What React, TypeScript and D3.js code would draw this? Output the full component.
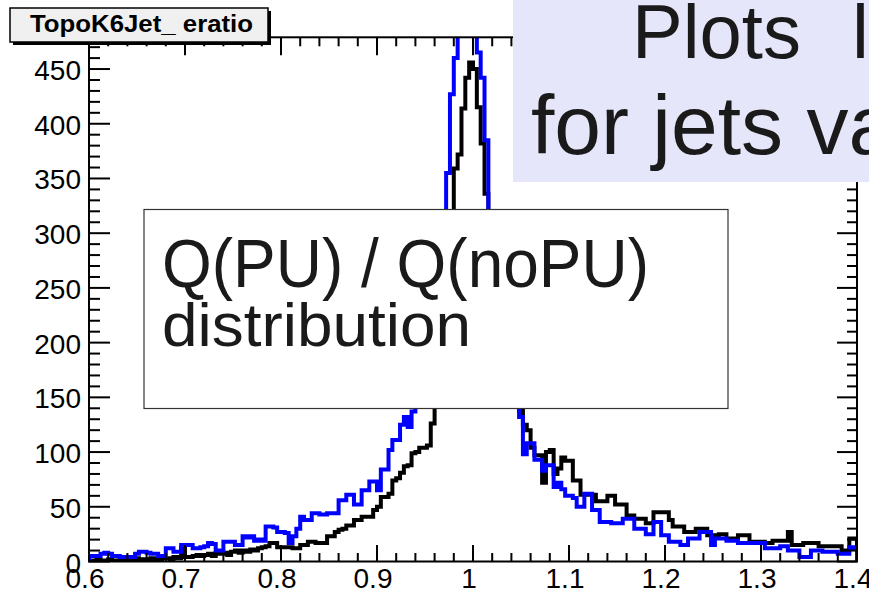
import React from 'react';
import * as d3 from 'd3';

// Histogram range and binning
const xMin = 0.6;
const xMax = 1.4;
const nBins = 200;
const yMax = 479;

const xTickValues = [0.6, 0.7, 0.8, 0.9, 1.0, 1.1, 1.2, 1.3, 1.4];
const xTickLabels = ['0.6', '0.7', '0.8', '0.9', '1', '1.1', '1.2', '1.3', '1.4'];
const yTickValues = [0, 50, 100, 150, 200, 250, 300, 350, 400, 450];
const yTickLabels = ['0', '50', '100', '150', '200', '250', '300', '350', '400', '450'];

// Bin contents, black histogram
const histBlack = [
  1, 0, 2, 1, 1, 2, 0, 1, 2, 1,
  2, 1, 3, 2, 1, 2, 3, 2, 2, 3,
  3, 2, 4, 3, 12, 4, 4, 5, 6, 5,
  6, 7, 5, 8, 7, 8, 6, 9, 10, 8,
  10, 9, 11, 10, 12, 13, 14, 17, 17, 13,
  13, 13, 13, 12, 12, 15, 15, 18, 18, 17,
  17, 17, 23, 23, 27, 29, 30, 33, 33, 38,
  38, 41, 41, 41, 47, 50, 59, 59, 62, 74,
  76, 81, 87, 88, 99, 100, 104, 104, 106, 126,
  160, 195, 235, 275, 310, 359, 372, 414, 442, 456,
  450, 415, 382, 336, 300, 270, 240, 215, 190, 170,
  155, 145, 138, 125, 120, 104, 97, 97, 72, 100,
  102, 80, 85, 95, 92, 92, 74, 74, 61, 61,
  61, 61, 55, 55, 55, 60, 60, 52, 52, 52,
  42, 42, 39, 39, 39, 35, 35, 45, 45, 45,
  45, 38, 32, 32, 32, 27, 27, 27, 30, 30,
  30, 24, 24, 24, 25, 25, 21, 21, 21, 24,
  24, 24, 18, 18, 18, 18, 17, 17, 19, 19,
  19, 19, 27, 15, 15, 15, 17, 17, 17, 17,
  14, 14, 14, 14, 14, 14, 10, 10, 21, 21,
];

// Bin contents, blue histogram
const histBlue = [
  5, 5, 5, 7, 8, 7, 5, 5, 4, 4,
  4, 4, 7, 9, 9, 8, 7, 7, 5, 5,
  12, 12, 9, 9, 15, 15, 15, 12, 12, 13,
  14, 17, 16, 10, 10, 18, 18, 18, 15, 15,
  23, 22, 23, 19, 20, 19, 32, 32, 31, 27,
  27, 26, 17, 23, 30, 41, 38, 38, 44, 44,
  43, 43, 44, 44, 44, 56, 56, 61, 61, 52,
  52, 65, 65, 73, 73, 65, 84, 84, 102, 111,
  111, 125, 132, 123, 137, 155, 175, 195, 215, 240,
  260, 285, 310, 355, 427, 460, 520, 570, 600, 580,
  530, 465, 442, 385, 300, 265, 235, 210, 185, 165,
  150, 142, 132, 98, 108, 108, 93, 93, 83, 88,
  88, 68, 72, 66, 60, 60, 58, 50, 50, 62,
  62, 47, 47, 36, 36, 36, 35, 35, 35, 39,
  39, 39, 30, 30, 30, 25, 25, 36, 36, 24,
  24, 18, 18, 18, 15, 15, 21, 21, 21, 27,
  27, 27, 15, 21, 21, 21, 19, 19, 19, 17,
  17, 17, 17, 17, 17, 17, 12, 12, 12, 12,
  14, 14, 10, 10, 10, 4, 4, 4, 10, 10,
  10, 9, 9, 9, 9, 7, 7, 7, 13, 12,
];

const titleText = 'TopoK6Jet_ eratio';
const headerWords = ['Plots', 'lo'];
const headerLine2 = 'for jets va';
const noteLines = ['Q(PU) / Q(noPU)', 'distribution'];

const W = 869;
const H = 593;
const frame = { left: 89, right: 857, top: 37.3, bottom: 561.5 };
const rootFont = '"Liberation Sans", Arial, Helvetica, sans-serif';

export default function App() {
  const x = d3.scaleLinear().domain([xMin, xMax]).range([frame.left, frame.right]);
  const y = d3.scaleLinear().domain([0, yMax]).range([frame.bottom, frame.top]);

  const edges = d3.range(nBins + 1).map((i) => xMin + (i * (xMax - xMin)) / nBins);
  const line = d3
    .line<[number, number]>()
    .x((d) => x(d[0]))
    .y((d) => y(d[1]));

  const stepPath = (vals: number[]) => {
    const pts: [number, number][] = [[edges[0], 0]];
    vals.forEach((v, i) => {
      pts.push([edges[i], v]);
      pts.push([edges[i + 1], v]);
    });
    pts.push([edges[nBins], 0]);
    return line(pts) || '';
  };

  const xMinor = d3.range(0, 41).map((i) => ({ v: xMin + i * 0.02, major: i % 5 === 0 }));
  const yMinor = d3.range(0, 48).map((i) => ({ v: i * 10, major: i % 5 === 0 }));

  return (
    <svg
      width={W}
      height={H}
      viewBox={`0 0 ${W} ${H}`}
      style={{ position: 'absolute', left: 0, top: 0, display: 'block', background: '#fff' }}
    >
      <defs>
        <clipPath id="frameClip">
          <rect
            x={frame.left}
            y={frame.top}
            width={frame.right - frame.left}
            height={frame.bottom - frame.top}
          />
        </clipPath>
      </defs>
      <rect x={0} y={0} width={W} height={H} fill="#fff" />

      {/* histograms */}
      <g clipPath="url(#frameClip)" fill="none" strokeLinejoin="miter" strokeLinecap="square">
        <path d={stepPath(histBlack)} stroke="#000" strokeWidth={4} />
        <path d={stepPath(histBlue)} stroke="#0000ff" strokeWidth={4} />
      </g>

      {/* frame */}
      <rect
        x={frame.left}
        y={frame.top}
        width={frame.right - frame.left}
        height={frame.bottom - frame.top}
        fill="none"
        stroke="#000"
        strokeWidth={2}
      />

      {/* ticks on all four sides */}
      <g stroke="#000" strokeWidth={2}>
        {xMinor.map((t, i) => (
          <g key={`xt${i}`}>
            <line
              x1={x(t.v)}
              x2={x(t.v)}
              y1={frame.bottom}
              y2={frame.bottom - (t.major ? 16.5 : 8.5)}
            />
            <line
              x1={x(t.v)}
              x2={x(t.v)}
              y1={frame.top}
              y2={frame.top + (t.major ? 18 : 9)}
            />
          </g>
        ))}
        {yMinor.map((t, i) => (
          <g key={`yt${i}`}>
            <line
              x1={frame.left}
              x2={frame.left + (t.major ? 21 : 11)}
              y1={y(t.v)}
              y2={y(t.v)}
            />
            <line
              x1={frame.right}
              x2={frame.right - (t.major ? 20 : 10)}
              y1={y(t.v)}
              y2={y(t.v)}
            />
          </g>
        ))}
      </g>

      {/* axis labels */}
      <g fontFamily={rootFont} fontSize={28} fill="#000">
        {yTickValues.map((v, i) => (
          <text key={`yl${i}`} x={81} y={y(v) + 11} textAnchor="end">
            {yTickLabels[i]}
          </text>
        ))}
        {xTickValues.map((v, i) => (
          <text key={`xl${i}`} x={x(v) - 4} y={588} textAnchor="middle">
            {xTickLabels[i]}
          </text>
        ))}
      </g>

      {/* histogram title box */}
      <rect x={13} y={11} width={258} height={34} fill="#000" />
      <rect x={10} y={8} width={258} height={34} fill="#f0f0f0" stroke="#000" strokeWidth={1.5} />
      <text
        x={30}
        y={32}
        fontFamily={rootFont}
        fontWeight="bold"
        fontSize={23}
        textLength={223}
        lengthAdjust="spacingAndGlyphs"
        fill="#000"
      >
        {titleText}
      </text>

      {/* slide header */}
      <rect x={513} y={0} width={W - 513} height={182} fill="#e6e6fa" />
      <text x={632} y={58} fontFamily={rootFont} fontSize={76} fill="#1a1a1a">
        {headerWords[0]}
        <tspan dx={51}>{headerWords[1]}</tspan>
      </text>
      <text x={531} y={154} fontFamily={rootFont} fontSize={84} fill="#1a1a1a">
        {headerLine2}
      </text>

      {/* annotation box */}
      <rect x={144} y={209.5} width={584} height={199} fill="#fff" stroke="#333" strokeWidth={1.2} />
      <text
        x={162}
        y={287}
        fontFamily={rootFont}
        fontSize={68}
        textLength={487}
        lengthAdjust="spacingAndGlyphs"
        fill="#1a1a1a"
      >
        {noteLines[0]}
      </text>
      <text
        x={162}
        y={346}
        fontFamily={rootFont}
        fontSize={61}
        textLength={309}
        lengthAdjust="spacingAndGlyphs"
        fill="#1a1a1a"
      >
        {noteLines[1]}
      </text>
    </svg>
  );
}
